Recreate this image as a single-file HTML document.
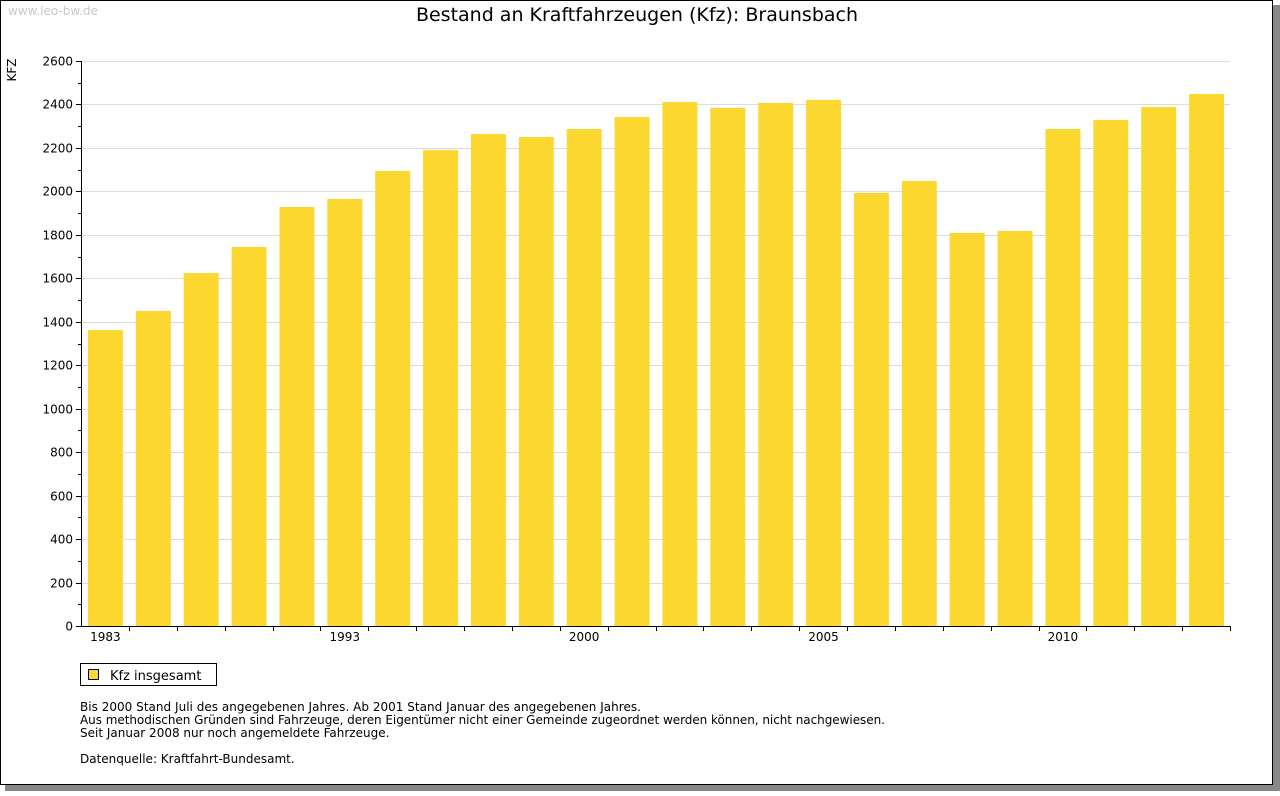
<!DOCTYPE html>
<html><head><meta charset="utf-8">
<style>
body{margin:0;background:#fff;width:1280px;height:791px;overflow:hidden;font-family:"Liberation Sans","DejaVu Sans",sans-serif;}
svg text{font-family:"DejaVu Sans","Liberation Sans",sans-serif;}
</style></head>
<body>
<svg id="chart" width="1280" height="791" xmlns="http://www.w3.org/2000/svg">
<rect x="5" y="5" width="1275" height="786" fill="#888"/>
<rect x="0.5" y="0.5" width="1272" height="784" fill="#fff" stroke="#000"/>
<text x="8" y="15" font-size="12" fill="#c8c8c8">www.leo-bw.de</text>
<text x="637" y="21" font-size="19" text-anchor="middle" fill="#000">Bestand an Kraftfahrzeugen (Kfz): Braunsbach</text>
<text transform="translate(16,70) rotate(-90)" font-size="12" text-anchor="middle">KFZ</text>
<g id="grid"></g><g id="bars"></g><g id="axes"></g>
<rect x="80.5" y="663.5" width="136" height="22" fill="#fff" stroke="#000"/>
<rect x="88.5" y="669.5" width="10" height="10" fill="#fcd72f" stroke="#000"/>
<text x="110" y="680" font-size="13">Kfz insgesamt</text>
<g font-size="12">
<text x="80" y="711" textLength="561">Bis 2000 Stand Juli des angegebenen Jahres. Ab 2001 Stand Januar des angegebenen Jahres.</text>
<text x="80" y="724" textLength="805">Aus methodischen Gründen sind Fahrzeuge, deren Eigentümer nicht einer Gemeinde zugeordnet werden können, nicht nachgewiesen.</text>
<text x="80" y="737">Seit Januar 2008 nur noch angemeldete Fahrzeuge.</text>
<text x="80" y="763">Datenquelle: Kraftfahrt-Bundesamt.</text>
</g>
</svg>
<script>
const years=["1983","1985","1987","1989","1991","1993","1995","1996","1997","1998","2000","2001","2002","2003","2004","2005","2006","2007","2008","2009","2010","2011","2012","2013"];
const values=[1362,1450,1624,1744,1928,1965,2094,2190,2264,2250,2287,2342,2411,2384,2407,2421,1993,2048,1809,1818,2287,2329,2388,2448];
const shownLabels=["1983","1993","2000","2005","2010"];
const yTicks=[0,200,400,600,800,1000,1200,1400,1600,1800,2000,2200,2400,2600];
const NS="http://www.w3.org/2000/svg";
const x0=81,x1=1230,y0=626,y1=61,yMax=2600;
const step=(x1-x0)/years.length;
const yS=v=>y0-(v/yMax)*(y0-y1);
const xS=i=>x0+i*step;
function mk(t,a,p){const e=document.createElementNS(NS,t);for(const k in a)e.setAttribute(k,a[k]);p.appendChild(e);return e;}
const grid=document.getElementById('grid'),bars=document.getElementById('bars'),axes=document.getElementById('axes');
yTicks.forEach(v=>{const y=Math.round(yS(v))+0.5;
 if(v>0){const g=mk('line',{x1:x0,x2:x1,y1:y,y2:y,stroke:'#dcdcdc'},grid);
 
 }
 mk('line',{x1:x0-5,x2:x0,y1:y,y2:y,stroke:'#000'},axes);
 const m=Math.round(yS(v+100))+0.5;
 if(v<yMax)mk('line',{x1:x0-3,x2:x0,y1:m,y2:m,stroke:'#000'},axes);
 const t=mk('text',{x:x0-8,y:y+4,'font-size':12,'text-anchor':'end'},axes);t.textContent=v;
 
 
});
values.forEach((v,i)=>{const bw=step*0.73;const cx=xS(i)+step/2+0.5;
 const r=mk('rect',{x:cx-bw/2,y:yS(v),width:bw,height:y0-yS(v),fill:'#fcd72f'},bars);
 
 
 const tx=Math.round(xS(i+1))+0.5;
 mk('line',{x1:tx,x2:tx,y1:y0,y2:y0+5,stroke:'#000'},axes);
 if(shownLabels.includes(years[i])){const t=mk('text',{x:cx,y:y0+15,'font-size':12,'text-anchor':'middle'},axes);t.textContent=years[i];
 
 }
});
const ax=mk('line',{x1:x0+0.5,x2:x0+0.5,y1:y1,y2:y0+0.5,stroke:'#000'},axes);


const bx=mk('line',{x1:x0,x2:x1,y1:y0+0.5,y2:y0+0.5,stroke:'#000'},axes);


</script>
</body></html>
